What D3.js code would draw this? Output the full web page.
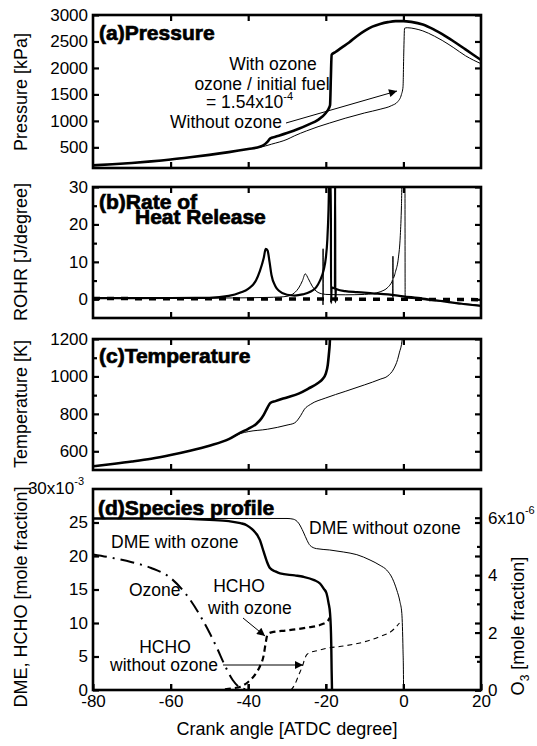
<!DOCTYPE html>
<html>
<head>
<meta charset="utf-8">
<script src="https://cdn.jsdelivr.net/npm/d3@7"></script>
<style>
  body { margin: 0; background: #fff; }
  svg { display: block; font-family: "Liberation Sans", Arial, sans-serif; }
</style>
</head>
<body>
<svg id="chart" width="537" height="746"></svg>
<script>
/* ── data (crank angle [ATDC deg], value) ───────────────────── */
const crankTicks = [-80, -60, -40, -20, 0, 20];

// (a) pressure [kPa]
const pressureWithO3 = [
  [-80,160],[-75,180],[-70,205],[-65,235],[-60,270],[-55,312],[-50,358],[-45,410],
  [-40,470],[-37,510],[-36,545],[-35,610],[-34.3,670],[-33,700],[-30,770],[-27,850],
  [-24.5,930],[-22,1020],[-20,1150],[-19.2,1240],[-18.9,1300],[-18.7,1800],[-18.5,2250],
  [-17.5,2300],[-16,2380],[-14,2480],[-12,2600],[-10,2700],[-8,2780],[-6,2830],[-4,2865],
  [-2,2885],[0,2885],[2,2870],[5,2820],[8,2720],[10,2640],[13,2500],[16,2350],[20,2150]
];
const pressureNoO3 = [
  [-80,160],[-75,180],[-70,205],[-65,235],[-60,270],[-55,312],[-50,358],[-45,410],
  [-40,470],[-37,500],[-34,560],[-30,650],[-28,720],[-25,810],[-22,890],[-19,960],
  [-15,1050],[-10,1150],[-6,1220],[-3,1290],[-1.5,1360],[-0.5,1500],[-0.1,1640],
  [0.1,2300],[0.3,2750],[1,2760],[3,2740],[5,2700],[8,2600],[10,2520],[13,2380],
  [16,2230],[20,2080]
];

// (b) rate of heat release [J/degree]
const rohrWithO3 = [
  [-80,0.3],[-60,0.35],[-50,0.4],[-45,0.9],[-42,1.8],[-40,2.8],[-38,5],[-37,7.5],
  [-36,11],[-35.5,13.5],[-35,13],[-34.5,10],[-34,6.5],[-33,3.5],[-32,2.2],[-30,1.2],
  [-28,1.0],[-26,1.3],[-24,2],[-22.5,3.2],[-21.5,5],[-20.5,8],[-20,11],[-19.6,16],
  [-19.3,24],[-19.1,33],[-18.7,33],[-18.65,-1],[-18.5,3.2],[-18,3.0],[-17.65,2.9],
  [-17.6,33],[-17.55,-0.8],[-17.4,2.8],[-17,2.6],[-15,2.2],[-12,1.9],[-8,1.6],
  [-4,1.3],[0,0.8],[5,0.2],[10,-0.5],[15,-1.2],[20,-1.8]
];
const rohrNoO3 = [
  [-80,0.2],[-50,0.3],[-40,0.4],[-35,0.5],[-32,0.6],[-30,0.8],[-28,1.8],[-27,3],
  [-26,5],[-25.3,6.8],[-24.5,5.5],[-23.5,3.5],[-22.5,2.2],[-21.5,1.6],[-20.75,1.4],
  [-20.72,-1.5],[-20.7,13.5],[-20.68,1.4],[-20,1.3],[-15,1.2],[-10,1.3],[-8,1.5],
  [-6,2],[-4,3.2],[-3,4.6],[-2.75,5.2],[-2.72,0.5],[-2.7,11.5],[-2.68,5.6],[-2,7.5],
  [-1.3,11],[-0.8,17],[-0.5,25],[-0.3,35],[0.4,35],[0.45,0.3],[1,0.3],[5,-0.1],
  [10,-0.6],[15,-1.1],[20,-1.6]
];
const rohrZero = [[-80,0.2],[-40,0.1],[0,0],[20,-0.1]];

// (c) temperature [K]
const tempWithO3 = [
  [-80,520],[-75,532],[-70,545],[-65,560],[-60,580],[-55,603],[-50,630],[-45,665],
  [-42,700],[-40,720],[-38,745],[-37,765],[-36,795],[-35,835],[-34.3,858],[-33,868],
  [-30,888],[-27,908],[-24.5,935],[-22,965],[-21,982],[-20,1015],[-19.5,1060],
  [-19.2,1120],[-19,1170],[-18.8,1260]
];
const tempNoO3 = [
  [-80,520],[-75,532],[-70,545],[-65,560],[-60,580],[-55,603],[-50,630],[-45,665],
  [-42,695],[-40,705],[-35,718],[-30,740],[-28,752],[-26.5,790],[-25.5,825],[-24,850],
  [-20,885],[-15,920],[-10,955],[-6,985],[-4,1003],[-2.5,1040],[-1.5,1090],[-1,1130],
  [-0.5,1170],[0,1260]
];

// (d) species profile, DME & HCHO [x10^-3 mole fraction], O3 [x10^-6 mole fraction]
const dmeWithO3 = [
  [-80,25.6],[-60,25.6],[-50,25.4],[-45,25.2],[-42,24.9],[-40.4,24.6],[-39,24],
  [-37,22.4],[-36,20.6],[-35.2,19.2],[-34.4,18.2],[-33,17.7],[-31.8,17.4],[-28,17.1],
  [-25.8,16.9],[-23,16.4],[-21.5,15.9],[-20.5,15.1],[-19.8,14.4],[-19.3,13],[-18.9,11.4],
  [-18.6,7],[-18.5,3],[-18.4,0]
];
const dmeNoO3 = [
  [-80,25.6],[-40,25.6],[-30,25.6],[-28.4,25.5],[-27,24.9],[-25.8,23.6],[-24.8,22.3],
  [-24.1,21.6],[-22.4,21.1],[-19,20.9],[-15.5,20.6],[-12,20.2],[-8.6,19.4],[-6,18.6],
  [-4.3,17.9],[-2.8,16.6],[-1.7,14.9],[-0.9,13.2],[-0.4,11.4],[-0.1,6],[0,3],[0.05,0]
];
const hchoWithO3 = [
  [-46,0.1],[-44,0.25],[-42,0.5],[-40,1.2],[-38,2.5],[-37,3.5],[-36,5.2],[-35.5,7],
  [-35,8.3],[-34,8.6],[-30,8.9],[-25,9.3],[-21,9.8],[-19.5,10.3],[-19,10.8]
];
const hchoNoO3 = [
  [-29,0],[-28,0.8],[-27,2.2],[-26,3.6],[-25.5,4.5],[-25,5.2],[-24,5.6],[-22,5.9],
  [-20,6.2],[-15,6.6],[-10,7.2],[-6,8.0],[-3,8.8],[-1,10.0]
];
const ozone = [
  [-80,4.72],[-75,4.6],[-70,4.45],[-65,4.25],[-60,3.9],[-55,3.15],[-52,2.5],[-50,2.0],
  [-48,1.45],[-46,0.85],[-44,0.35],[-42,0.08],[-40,0.02]
];

/* ── layout ─────────────────────────────────────────────────── */
const svg = d3.select('#chart');
const x = d3.scaleLinear().domain([-80, 20]).range([93, 481]);
const X0 = 93, X1 = 481;
const FONT = 17;

const line = (y) => d3.line()
  .x(d => x(d[0]))
  .y(d => y(d[1]))
  .curve(d3.curveMonotoneX);

// arrow marker
svg.append('defs').append('marker')
  .attr('id', 'arr')
  .attr('viewBox', '0 0 10 10')
  .attr('refX', 10).attr('refY', 5)
  .attr('markerWidth', 12).attr('markerHeight', 8)
  .attr('markerUnits', 'userSpaceOnUse')
  .attr('orient', 'auto')
  .append('path').attr('d', 'M0,0L10,5L0,10Z').attr('fill', '#000');

function panel(id, top, bottom, domain, major, minor, showLabels) {
  const y = d3.scaleLinear().domain(domain).range([bottom, top]);
  const g = svg.append('g');

  svg.select('defs').append('clipPath').attr('id', 'clip-' + id)
    .append('rect').attr('x', X0).attr('y', top).attr('width', X1 - X0).attr('height', bottom - top);

  const plot = g.append('g').attr('clip-path', `url(#clip-${id})`);

  // y ticks left / right
  const left = g.append('g').attr('transform', `translate(${X0},0)`)
    .call(d3.axisLeft(y).tickValues(major).tickSize(-6).tickPadding(5)
      .tickFormat(showLabels ? (d => String(d)) : ''));
  const right = g.append('g').attr('transform', `translate(${X1},0)`)
    .call(d3.axisRight(y).tickValues(major).tickSize(-6).tickFormat(''));
  if (minor.length) {
    g.append('g').attr('transform', `translate(${X0},0)`)
      .call(d3.axisLeft(y).tickValues(minor).tickSize(-4).tickFormat(''));
    g.append('g').attr('transform', `translate(${X1},0)`)
      .call(d3.axisRight(y).tickValues(minor).tickSize(-4).tickFormat(''));
  }
  // x ticks top / bottom
  g.append('g').attr('transform', `translate(0,${top})`)
    .call(d3.axisTop(x).tickValues(crankTicks.slice(1, -1)).tickSize(-6).tickFormat(''));
  g.append('g').attr('transform', `translate(0,${bottom})`)
    .call(d3.axisBottom(x).tickValues(crankTicks.slice(1, -1)).tickSize(-6).tickFormat(''));

  g.selectAll('.domain').remove();
  g.selectAll('.tick line').attr('stroke', '#000').attr('stroke-width', 2.2);
  g.selectAll('.tick text').attr('font-size', FONT).attr('font-family', null).attr('fill', '#000');

  g.append('rect')
    .attr('x', X0).attr('y', top)
    .attr('width', X1 - X0).attr('height', bottom - top)
    .attr('fill', 'none').attr('stroke', '#000').attr('stroke-width', 2.6);

  return { y, g, plot };
}

function path(p, data, y, w, dash) {
  p.append('path')
    .datum(data)
    .attr('d', line(y))
    .attr('fill', 'none')
    .attr('stroke', '#000')
    .attr('stroke-width', w)
    .attr('stroke-dasharray', dash || null)
    .attr('stroke-linejoin', 'round');
}

function text(str, px, py, opts = {}) {
  return svg.append('text')
    .attr('x', px).attr('y', py)
    .attr('font-size', opts.size || 17.5)
    .attr('font-weight', opts.bold ? 'bold' : null)
    .attr('text-anchor', opts.anchor || 'start')
    .attr('stroke', opts.bold ? '#000' : null)
    .attr('stroke-width', opts.bold ? 0.7 : null)
    .text(str);
}

function yTitle(str, cy) {
  svg.append('text')
    .attr('transform', `translate(27,${cy}) rotate(-90)`)
    .attr('text-anchor', 'middle')
    .attr('font-size', 18)
    .text(str);
}

/* ── (a) Pressure ───────────────────────────────────────────── */
const A = panel('a', 15, 168, [110, 3000], [500, 1000, 1500, 2000, 2500, 3000], [], true);
path(A.plot, pressureNoO3, A.y, 1);
path(A.plot, pressureWithO3, A.y, 2.6);
text('(a)Pressure', 99, 40, { bold: true, size: 21 });
text('With ozone', 273, 70, { anchor: 'middle' });
text('ozone / initial fuel', 262, 90, { anchor: 'middle' });
text('= 1.54x10', 206, 108).append('tspan').attr('dy', -8).attr('font-size', 11).text('-4');
text('Without ozone', 170, 128);
svg.append('line')
  .attr('x1', 286).attr('y1', 123).attr('x2', 397).attr('y2', 91)
  .attr('stroke', '#000').attr('stroke-width', 1).attr('marker-end', 'url(#arr)');
yTitle('Pressure [kPa]', 92);

/* ── (b) Rate of heat release ───────────────────────────────── */
const B = panel('b', 187, 318, [-5, 30], [0, 10, 20, 30], [5, 15, 25], true);
path(B.plot, rohrZero, B.y, 3.5, '7,7');
path(B.plot, rohrNoO3, B.y, 1);
path(B.plot, rohrWithO3, B.y, 2.2);
text('(b)Rate of', 99, 209, { bold: true, size: 21 });
text('Heat Release', 135, 224, { bold: true, size: 21 });
yTitle('ROHR [J/degree]', 252);

/* ── (c) Temperature ────────────────────────────────────────── */
const C = panel('c', 339, 470, [500, 1200], [600, 800, 1000, 1200], [700, 900, 1100], true);
path(C.plot, tempNoO3, C.y, 1);
path(C.plot, tempWithO3, C.y, 2.6);
text('(c)Temperature', 99, 363, { bold: true, size: 21 });
yTitle('Temperature [K]', 404);

/* ── (d) Species profile ────────────────────────────────────── */
const D = panel('d', 489, 690, [0, 30], [0, 5, 10, 15, 20, 25], [], true);
const yO3 = d3.scaleLinear().domain([0, 7]).range([690, 489]);

D.g.append('g').attr('transform', `translate(${X1},0)`)
  .call(d3.axisRight(yO3).tickValues([0, 2, 4]).tickSize(-6).tickPadding(7).tickFormat(d => String(d)));
D.g.append('g').attr('transform', `translate(${X1},0)`)
  .call(d3.axisRight(yO3).tickValues([6]).tickSize(-6).tickFormat(''));
D.g.append('g').attr('transform', `translate(${X1},0)`)
  .call(d3.axisRight(yO3).tickValues([1, 3, 5]).tickSize(-4).tickFormat(''));
D.g.append('g').attr('transform', `translate(0,690)`)
  .call(d3.axisBottom(x).tickValues(crankTicks).tickSize(-6).tickPadding(5).tickFormat(d => String(d)));
D.g.selectAll('.domain').remove();
D.g.selectAll('.tick line').attr('stroke', '#000').attr('stroke-width', 2.2);
D.g.selectAll('.tick text').attr('font-size', FONT).attr('font-family', null).attr('fill', '#000');

path(D.plot, dmeNoO3, D.y, 1);
path(D.plot, dmeWithO3, D.y, 2.4);
path(D.plot, hchoNoO3, D.y, 1.1, '5,4');
path(D.plot, hchoWithO3, D.y, 2.2, '6,4');
path(D.plot, ozone, yO3, 2, '14,6,2,6');

const t30 = text('30x10', 84, 494, { anchor: 'end', size: FONT });
t30.append('tspan').attr('dy', -9).attr('font-size', 11).text('-3');
const t6 = text('6x10', 488, 524, { size: FONT });
t6.append('tspan').attr('dy', -10).attr('font-size', 11).text('-6');

text('(d)Species profile', 98, 515, { bold: true, size: 21 });
text('DME with ozone', 111, 548);
text('DME without ozone', 309, 534);
text('Ozone', 129, 596);
text('HCHO', 239, 592, { anchor: 'middle' });
text('with ozone', 208, 614);
text('HCHO', 165, 653, { anchor: 'middle' });
text('without ozone', 110, 671);
svg.append('line')
  .attr('x1', 243).attr('y1', 618).attr('x2', 265).attr('y2', 636)
  .attr('stroke', '#000').attr('stroke-width', 1).attr('marker-end', 'url(#arr)');
svg.append('line')
  .attr('x1', 223).attr('y1', 665).attr('x2', 303).attr('y2', 665)
  .attr('stroke', '#000').attr('stroke-width', 1).attr('marker-end', 'url(#arr)');

yTitle('DME, HCHO [mole fraction]', 597);
const rt = svg.append('text')
  .attr('transform', 'translate(524,626) rotate(-90)')
  .attr('text-anchor', 'middle')
  .attr('font-size', 18);
rt.append('tspan').text('O');
rt.append('tspan').attr('dy', 5).attr('font-size', 12).text('3');
rt.append('tspan').attr('dy', -5).text(' [mole fraction]');

text('Crank angle [ATDC degree]', 287, 735, { anchor: 'middle', size: 18 });
</script>
</body>
</html>
